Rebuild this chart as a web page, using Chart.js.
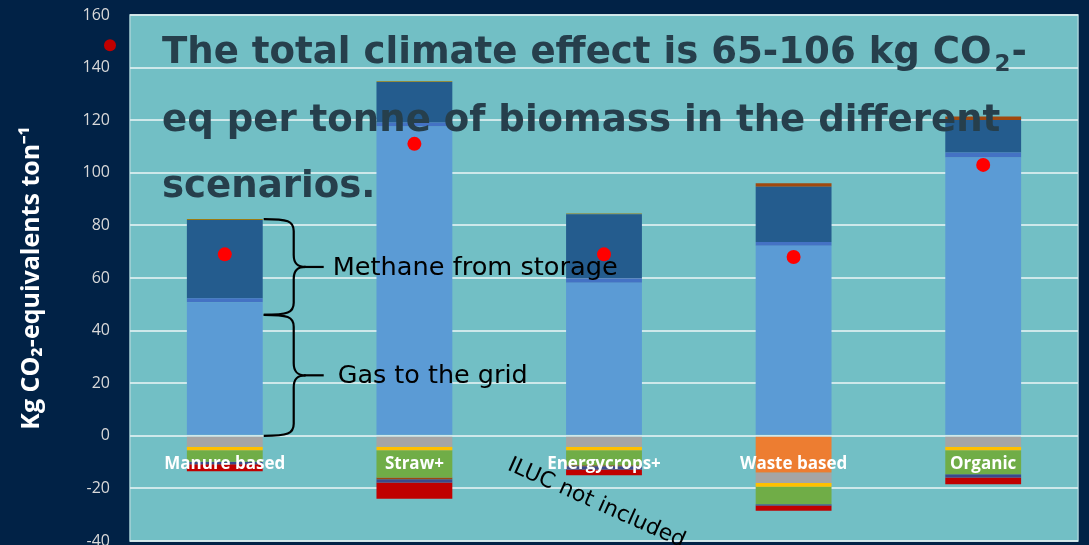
<!DOCTYPE html>
<html>
<head>
<meta charset="utf-8">
<script src="https://cdn.jsdelivr.net/npm/chart.js@4.4.1/dist/chart.umd.min.js"></script>
<style>
  html, body { margin: 0; padding: 0; background: #012246; }
  #wrap { width: 1089px; height: 545px; }
</style>
</head>
<body>
<div id="wrap"><canvas id="chart"></canvas></div>
<script>
// Scenarios
const categories = ['Manure based', 'Straw+', 'Energycrops+', 'Waste based', 'Organic'];

// Positive contributions, kg CO2-eq per tonne
const gasToGrid = [50.8, 117.6, 58.2, 72.3, 105.8];
const upgrading = [1.5, 1.5, 1.6, 1.4, 1.9];
const methaneStorage = [29.8, 15.4, 24.4, 21.0, 12.4];
const otherPos = [0.3, 0.3, 0.3, 0, 0];
const transportPos = [0, 0, 0, 1.3, 1.3];

// Negative contributions (savings)
const avoidedWaste = [0, 0, 0, -14.0, 0];
const grayNeg = [-4.2, -4.2, -4.2, -3.9, -4.2];
const yellowNeg = [-1.3, -1.3, -1.3, -1.5, -1.3];
const greenNeg = [-4.4, -10.4, -5.7, -6.6, -9.1];
const brownNeg = [0, -0.6, -0.4, 0, 0];
const navyNeg = [-0.9, -1.3, -1.2, -0.5, -1.3];
const redNeg = [-2.7, -6.1, -2.2, -2.0, -2.5];

// Net climate effect
const netTotal = [69, 111, 69, 68, 103];

// Y axis
const yMin = -40;
const yMax = 160;
const yStep = 20;

const titleLines = ['The total climate effect is 65-106 kg CO', 'eq per tonne of biomass in the different', 'scenarios.'];

function bar(label, data, color) {
  return { type: 'bar', label: label, data: data, backgroundColor: color, borderWidth: 0, order: 1 };
}

const plotBackground = {
  id: 'plotBackground',
  beforeDraw(chart) {
    const { ctx, chartArea: a } = chart;
    ctx.save();
    ctx.fillStyle = '#72bfc5';
    ctx.fillRect(a.left, a.top, a.right - a.left, a.bottom - a.top);
    ctx.strokeStyle = '#a9d3d8';
    ctx.lineWidth = 1.5;
    ctx.strokeRect(a.left, a.top, a.right - a.left, a.bottom - a.top);
    ctx.restore();
  }
};

function brace(ctx, x, yTop, yBot) {
  const yMid = (yTop + yBot) / 2;
  const w = 30;
  ctx.beginPath();
  ctx.moveTo(x, yTop);
  ctx.bezierCurveTo(x + w * 0.8, yTop, x + w, yTop + 2, x + w, yTop + 12);
  ctx.lineTo(x + w, yMid - 12);
  ctx.bezierCurveTo(x + w, yMid - 3, x + w + 4, yMid, x + w + 12, yMid);
  ctx.moveTo(x + w + 12, yMid);
  ctx.bezierCurveTo(x + w + 4, yMid, x + w, yMid + 3, x + w, yMid + 12);
  ctx.lineTo(x + w, yBot - 12);
  ctx.bezierCurveTo(x + w, yBot - 2, x + w * 0.8, yBot, x, yBot);
  ctx.stroke();
  ctx.beginPath();
  ctx.moveTo(x + w + 10, yMid);
  ctx.lineTo(x + w + 30, yMid);
  ctx.stroke();
  return yMid;
}

function fitFont(ctx, text, width, weight) {
  ctx.font = weight + ' 20px "DejaVu Sans"';
  return 20 * width / ctx.measureText(text).width;
}

const annotations = {
  id: 'annotations',
  afterDatasetsDraw(chart) {
    const { ctx, chartArea: a, scales } = chart;
    const x = scales.x, y = scales.y;
    ctx.save();

    // headline
    ctx.fillStyle = '#263f4c';
    ctx.textBaseline = 'alphabetic';
    const size = fitFont(ctx, titleLines[0], 830, 'bold');
    ctx.font = 'bold ' + size + 'px "DejaVu Sans"';
    const tx = a.left + 32;
    const base = [a.top + 48, a.top + 116, a.top + 182];
    ctx.fillText(titleLines[0], tx, base[0]);
    const w0 = ctx.measureText(titleLines[0]).width;
    ctx.font = 'bold ' + (size * 0.62) + 'px "DejaVu Sans"';
    ctx.fillText('2', tx + w0 + 3, base[0] + size * 0.22);
    const w2 = ctx.measureText('2').width;
    ctx.font = 'bold ' + size + 'px "DejaVu Sans"';
    ctx.fillText('-', tx + w0 + w2 + 4, base[0]);
    ctx.fillText(titleLines[1], tx, base[1]);
    ctx.fillText(titleLines[2], tx, base[2]);

    // braces next to the first bar
    const b = chart.getDatasetMeta(1).data[0];
    const bx = b.x + b.width / 2 + 1;
    const top = y.getPixelForValue(gasToGrid[0] + upgrading[0] + methaneStorage[0] + otherPos[0]);
    const mid = y.getPixelForValue(46);
    const zero = y.getPixelForValue(0);
    ctx.strokeStyle = '#000';
    ctx.lineWidth = 2.2;
    const m1 = brace(ctx, bx, top, mid);
    const m2 = brace(ctx, bx, mid, zero);
    ctx.fillStyle = '#000';
    ctx.textBaseline = 'middle';
    ctx.font = fitFont(ctx, 'Methane from storage', 285, 'normal') + 'px "DejaVu Sans"';
    ctx.fillText('Methane from storage', bx + 69, m1 + 1);
    ctx.font = fitFont(ctx, 'Gas to the grid', 190, 'normal') + 'px "DejaVu Sans"';
    ctx.fillText('Gas to the grid', bx + 74, m2 + 1);

    // ILUC note
    ctx.save();
    ctx.translate(x.getPixelForValue(1.5) + 4, y.getPixelForValue(-7));
    ctx.rotate(24 * Math.PI / 180);
    ctx.textBaseline = 'top';
    ctx.font = fitFont(ctx, 'ILUC not included', 192, 'normal') + 'px "DejaVu Sans"';
    ctx.fillText('ILUC not included', 0, 0);
    ctx.restore();

    ctx.restore();
  },
  afterDraw(chart) {
    const { ctx, chartArea: a, scales } = chart;
    ctx.save();
    ctx.fillStyle = '#c00000';
    ctx.beginPath();
    ctx.arc(a.left - 20, scales.y.getPixelForValue(148.5), 6, 0, Math.PI * 2);
    ctx.fill();
    ctx.restore();
  }
};

const ctx = document.getElementById('chart').getContext('2d');
const data = {
  labels: categories,
  datasets: [
    {
      type: 'line',
      label: 'Net',
      data: netTotal,
      showLine: false,
      pointRadius: 7,
      pointBackgroundColor: '#ff0000',
      pointBorderWidth: 0,
      stack: 'net',
      order: 0
    },
    bar('Gas to the grid', gasToGrid, '#5b9bd5'),
    bar('Upgrading', upgrading, '#4472c4'),
    bar('Methane from storage', methaneStorage, '#245c8e'),
    bar('Other', otherPos, '#9c7a10'),
    bar('Transport', transportPos, '#a0480e'),
    bar('Avoided waste treatment', avoidedWaste, '#ed7d31'),
    bar('Gray', grayNeg, '#a5a5a5'),
    bar('Yellow', yellowNeg, '#ffc000'),
    bar('Green', greenNeg, '#70ad47'),
    bar('Brown', brownNeg, '#9e480e'),
    bar('Navy', navyNeg, '#3b4a8c'),
    bar('Red', redNeg, '#c00000')
  ]
};
const options = {
  responsive: true,
  maintainAspectRatio: false,
  animation: false,
  layout: { autoPadding: false, padding: { left: 0, right: 11, top: 15, bottom: 4 } },
  plugins: { legend: { display: false }, tooltip: { enabled: false } },
  datasets: { bar: { categoryPercentage: 1, barPercentage: 0.4 } },
  scales: {
    x: {
      stacked: true,
      position: { y: 0 },
      afterFit: s => { s.paddingLeft = 0; s.paddingRight = 0; s.paddingTop = 0; s.paddingBottom = 0; },
      grid: { display: false, drawTicks: false },
      border: { display: false },
      ticks: { z: 1, color: '#ffffff', padding: 18, maxRotation: 0, font: { family: 'Open Sans', size: 17, weight: 'bold' } }
    },
    y: {
      stacked: true,
      min: yMin,
      max: yMax,
      afterFit: s => { s.width = 130; s.paddingTop = 0; s.paddingBottom = 0; },
      grid: { color: 'rgba(222,238,240,0.85)', lineWidth: 2, drawTicks: false },
      border: { display: false },
      ticks: { stepSize: yStep, color: '#d9d9d9', padding: 20, font: { family: 'Open Sans', size: 16 } },
      title: {
        display: true,
        text: 'Kg CO₂-equivalents ton⁻¹',
        color: '#ffffff',
        padding: { top: 17, bottom: 0 },
        font: { family: 'Open Sans', size: 25, weight: 'bold' }
      }
    }
  }
};
const config = {
  type: 'bar',
  data: data,
  options: options,
  plugins: [plotBackground, annotations]
};
const myChart = new Chart(ctx, config);
</script>
</body>
</html>
